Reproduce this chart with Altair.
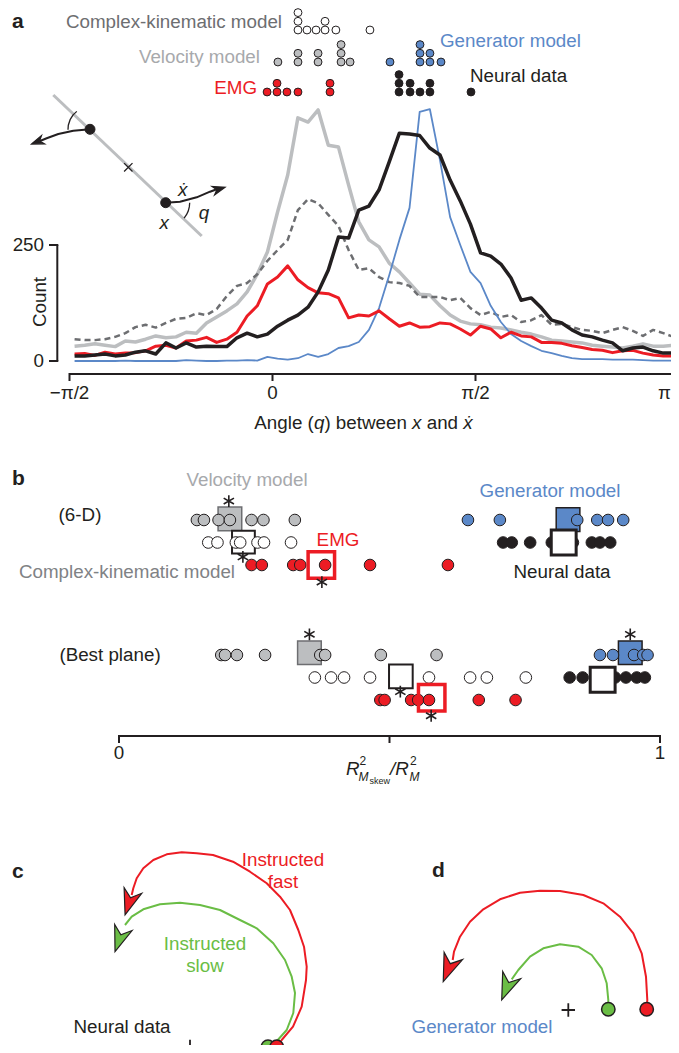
import altair as alt
import pandas as pd

FONT = "Liberation Sans"
FS = 18.8
RED = "#ec1c24"; BLUE = "#5b88c8"; GREEN = "#6abd45"; BLACK = "#231f20"
LGRAY = "#bcbec0"; DGRAY = "#6d6e71"; VEL_TXT = "#a7a9ac"; CK_TXT = "#808285"

# ---------------- panel a : histograms of angle q (degrees) ----------------
BIN_DEG = [-87.75 + 4.5 * k for k in range(60)]
NEURAL = [11, 11, 13, 15, 11, 13, 19, 22, 15, 39, 28, 39, 30, 32, 31, 31, 50, 60, 52, 58,
          75, 88, 99, 116, 149, 196, 267, 265, 325, 334, 369, 429, 491, 489, 486, 459, 444, 390, 345, 295,
          233, 226, 209, 179, 131, 136, 114, 88, 82, 67, 56, 52, 45, 39, 22, 28, 30, 22, 17, 17]
VELOCITY = [32, 34, 37, 34, 31, 43, 41, 47, 54, 50, 52, 62, 60, 82, 95, 108, 123, 149, 187, 235,
            321, 401, 524, 515, 541, 465, 461, 379, 300, 261, 246, 211, 192, 168, 144, 142, 119, 99, 86, 80,
            78, 73, 71, 67, 62, 58, 52, 45, 43, 41, 39, 34, 32, 30, 28, 32, 37, 32, 32, 34]
COMPLEX = [47, 45, 45, 47, 52, 60, 73, 78, 72, 82, 91, 93, 103, 99, 112, 140, 162, 168, 187, 216,
           239, 261, 325, 349, 340, 315, 291, 239, 196, 200, 181, 170, 168, 162, 138, 138, 138, 131, 136, 114,
           99, 106, 95, 99, 84, 88, 99, 78, 80, 73, 67, 65, 60, 67, 73, 65, 54, 67, 60, 52]
EMG = [15, 16, 12, 19, 15, 17, 18, 22, 32, 34, 28, 43, 45, 51, 40, 47, 62, 97, 119, 166,
       181, 205, 175, 158, 147, 145, 136, 93, 99, 97, 108, 91, 75, 82, 73, 74, 82, 80, 69, 56,
       75, 69, 50, 62, 54, 52, 40, 40, 38, 33, 29, 25, 23, 18, 22, 23, 17, 13, 11, 11]
GENERATOR = [0, 0, 0, 0, 0, 1, 0, 0, 0, 0, 0, 2, 1, 0, 0, 1, 1, 2, 1, 9,
             5, 3, 6, 15, 9, 15, 28, 32, 41, 67, 114, 185, 261, 330, 537, 543, 433, 310, 250, 192,
             168, 119, 84, 58, 43, 32, 22, 17, 11, 6, 4, 4, 4, 3, 3, 3, 2, 1, 1, 1]
A_TICKS = [-90, 0, 90, 180]
A_TICK_LABELS = ["\u2212\u03c0/2", "0", "\u03c0/2", "\u03c0"]
COUNT_TICKS = [0, 250]

# dot rows above the histograms: angle (deg) and stacking level
DOT_CK_ANG = [11.3, 11.3, 11.3, 15.3, 19.3, 23.3, 23.3, 28.1, 43.2]
DOT_CK_LVL = [0, 1, 2, 0, 0, 0, 1, 0, 0]
DOT_VEL_ANG = [2.4, 11.3, 11.3, 20.2, 20.2, 30.4, 30.4, 30.4, 34.4]
DOT_VEL_LVL = [0, 0, 1, 0, 1, 0, 1, 2, 0]
DOT_EMG_ANG = [-2.4, 2.0, 2.0, 6.4, 11.3, 25.5, 25.5]
DOT_EMG_LVL = [0, 0, 1, 0, 0, 0, 1]
DOT_GEN_ANG = [52.1, 65.4, 65.4, 65.4, 69.8, 69.8, 74.7]
DOT_GEN_LVL = [0, 0, 1, 2, 0, 1, 0]
DOT_NEU_ANG = [56.1, 56.1, 56.1, 61.0, 61.0, 65.4, 69.8, 69.8, 88.0]
DOT_NEU_LVL = [0, 1, 2, 0, 1, 0, 0, 1, 0]

# schematic (units relative to the pivot)
SCH_ROD_X = [-7.5, 7.34]; SCH_ROD_Y = [7.23, -6.87]
SCH_MASS_X = [-3.83, 3.74]; SCH_MASS_Y = [3.8, -3.54]
SCH_L_X = [-3.83, -5.5, -7.0, -8.16, -8.83]; SCH_L_Y = [3.8, 3.66, 3.33, 2.9, 2.63]
SCH_R_X = [3.74, 5.17, 6.84, 8.17, 8.77]; SCH_R_Y = [-3.54, -3.44, -3.0, -2.44, -2.22]
SCH_ARCL_X = [-5.15, -5.52, -5.82, -6.0, -6.03]; SCH_ARCL_Y = [5.59, 5.24, 4.76, 4.21, 3.75]
SCH_ARCR_X = [6.14, 6.1, 6.0, 5.82, 5.58]; SCH_ARCR_Y = [-3.54, -3.96, -4.36, -4.74, -5.08]
SCH_HEAD_X = [-9.1, 9.09]; SCH_HEAD_Y = [2.54, -2.17]; SCH_HEAD_ANG = [249.2, 73.7]

# ---------------- panel b : R2 ratios ----------------
B6_VEL = [0.144, 0.157, 0.184, 0.205, 0.245, 0.267, 0.325]
B6_CK = [0.165, 0.182, 0.216, 0.224, 0.256, 0.268, 0.318]
B6_EMG = [0.245, 0.264, 0.322, 0.335, 0.381, 0.464, 0.608]
B6_GEN = [0.645, 0.704, 0.847, 0.884, 0.904, 0.932]
B6_NEU = [0.710, 0.726, 0.760, 0.800, 0.839, 0.874, 0.889, 0.908]
BB_VEL = [0.189, 0.196, 0.218, 0.270, 0.372, 0.381, 0.484, 0.587]
BB_CK = [0.362, 0.392, 0.416, 0.464, 0.573, 0.649, 0.680, 0.752]
BB_EMG = [0.483, 0.491, 0.540, 0.553, 0.573, 0.665, 0.733]
BB_GEN = [0.889, 0.913, 0.952, 0.969, 0.977]
BB_NEU = [0.833, 0.857, 0.900, 0.917, 0.937, 0.957, 0.972]
# rows: 0-2 (6-D) velocity / complex / EMG, 6-8 best plane
MEAN_VAL = {"vel6": (0.205, -0.05), "ck6": (0.230, 0.98), "emg6": (0.374, 2.0), "gen6": (0.830, -0.02),
            "neu6": (0.822, 1.0), "velb": (0.352, 5.9), "ckb": (0.521, 6.95), "emgb": (0.578, 7.9),
            "genb": (0.945, 5.9), "neub": (0.894, 7.1)}
STAR_X = [0.203, 0.229, 0.375, 0.352, 0.945, 0.520, 0.577]
STAR_ROW = [-0.84, 1.64, 2.76, 5.08, 5.08, 7.63, 8.70]
B_TICKS = [0, 0.5, 1]

# ---------------- panels c, d : trajectories (units around the '+') ----------------
C_FAST_X = [8.7, 9.17, 10.3, 11.17, 11.6, 11.67, 11.4, 10.83, 10.0, 9.0, 7.67, 6.0, 4.3, 2.3, 0.67,
            -0.83, -2.33, -3.67, -4.67, -5.33, -5.67, -5.83]
C_FAST_Y = [0.07, 0.67, 2.0, 4.0, 6.67, 8.0, 10.0, 11.67, 13.67, 15.0, 16.34, 17.5, 18.5, 19.17, 19.34,
            19.44, 19.24, 18.67, 17.84, 16.84, 15.84, 15.17]
C_SLOW_X = [8.6, 9.67, 10.33, 10.5, 10.17, 9.5, 8.33, 6.67, 5.0, 3.0, 1.0, -1.0, -3.0, -4.67, -5.83, -6.5]
C_SLOW_Y = [0.47, 1.67, 3.37, 5.37, 7.0, 8.67, 10.34, 11.84, 12.67, 13.67, 14.17, 14.4, 14.24, 13.74, 13.0, 12.17]
C_HEAD = {"fast": (-6.1, 14.4, 197.8), "slow": (-7.08, 10.71, 199.1)}
C_START_X = [7.8, 8.67]
D_FAST_X = [7.84, 7.9, 7.77, 7.34, 6.5, 5.17, 3.5, 1.5, -0.83, -2.83, -4.83, -6.83, -8.5, -9.83, -10.83, -11.43, -11.56]
D_FAST_Y = [0.07, 1.0, 3.33, 5.67, 7.67, 9.33, 10.67, 11.5, 11.9, 11.93, 11.73, 11.07, 10.07, 8.83, 7.33, 5.83, 5.0]
D_SLOW_X = [4.0, 4.0, 3.84, 3.34, 2.34, 1.0, -0.83, -2.5, -3.83, -5.0, -5.66]
D_SLOW_Y = [0.07, 1.0, 2.67, 4.17, 5.5, 6.33, 6.57, 6.17, 5.33, 4.0, 3.07]
D_HEAD = {"fast": (-12.0, 4.12, 201.5), "slow": (-6.16, 2.25, 201.8)}
D_START_X = [4.0, 7.84]

# =====================================================================
ARROW = "M0,-1L0.72,1L0,0.4L-0.72,1Z"
STAR = "M0,-1L0,1M-0.87,-0.5L0.87,0.5M-0.87,0.5L0.87,-0.5"
PLUS = "M-1,0L1,0M0,-1L0,1"
TIMES = "M-1,-1L1,1M-1,1L1,-1"


def S(dom, rng):
    return alt.Scale(domain=dom, range=rng, zero=False, nice=False)


PX = S([0, 663], [0, 663]); PY = S([0, 1037], [0, 1037])
AX = S([-90, 180], [61.5, 670.5]); AY = S([0, 250], [353, 237])
SX = S([-10, 10], [20.3, 220.3]); SY = S([-10, 10], [259.3, 59.3])
BX = S([0, 1], [111, 652]); BY = S([0, 8], [512, 692])
CX = S([-20, 20], [-18, 382]); CY = S([-10, 30], [1138.7, 738.7])
DX = S([-20, 20], [360.3, 760.3]); DY = S([-10, 30], [1102, 702])


def XY(xf, xs, yf, ys):
    return dict(x=alt.X(xf, scale=xs, axis=None), y=alt.Y(yf, scale=ys, axis=None))


L = []


def T(text, x, y, size=FS, color=BLACK, align="center", weight="normal", style="normal", angle=0,
      baseline="middle"):
    df = pd.DataFrame({"x": [x - 8], "y": [y - 8], "t": [text]})
    kw = dict(font=FONT, fontSize=size, color=color, align=align, baseline=baseline,
              fontWeight=weight, fontStyle=style)
    if angle:
        kw["angle"] = angle
    L.append(alt.Chart(df).mark_text(**kw).encode(**XY("x:Q", PX, "y:Q", PY), text="t:N"))


def line(xs, ys, xsc, ysc, color, width, dash=None):
    df = pd.DataFrame({"x": xs, "y": ys, "i": list(range(len(xs)))})
    kw = dict(color=color, strokeWidth=width, strokeJoin="round")
    if dash:
        kw["strokeDash"] = dash
    L.append(alt.Chart(df).mark_line(**kw).encode(**XY("x:Q", xsc, "y:Q", ysc), order="i:Q"))


def dots(xs, ys, xsc, ysc, fill, size, shape="circle", stroke=BLACK, sw=1.0, filled=True):
    df = pd.DataFrame({"x": xs, "y": ys})
    kw = dict(shape=shape, size=size, opacity=1, stroke=stroke, strokeWidth=sw, filled=filled)
    if filled:
        kw["fill"] = fill
    L.append(alt.Chart(df).mark_point(**kw).encode(**XY("x:Q", xsc, "y:Q", ysc)))


def heads(xs, ys, angs, xsc, ysc, fill, size):
    df = pd.DataFrame({"x": xs, "y": ys, "a": angs})
    L.append(alt.Chart(df).mark_point(shape=ARROW, filled=True, fill=fill, stroke=BLACK, strokeWidth=1.2,
                                      opacity=1, size=size)
             .encode(**XY("x:Q", xsc, "y:Q", ysc), angle=alt.Angle("a:Q", scale=None)))


# ---------------- panel a axes ----------------
df = pd.DataFrame({"x0": [A_TICKS[0]], "x1": [A_TICKS[-1]], "y": [374 - 8]})
L.append(alt.Chart(df).mark_rule(color=BLACK, strokeWidth=2)
         .encode(x=alt.X("x0:Q", scale=AX, axis=None), x2="x1:Q", y=alt.Y("y:Q", scale=PY, axis=None)))
df = pd.DataFrame({"x": A_TICKS, "y0": [373 - 8] * 4, "y1": [381 - 8] * 4})
L.append(alt.Chart(df).mark_rule(color=BLACK, strokeWidth=2)
         .encode(x=alt.X("x:Q", scale=AX, axis=None), y=alt.Y("y0:Q", scale=PY, axis=None), y2="y1:Q"))
df = pd.DataFrame({"x": A_TICKS[:3], "t": A_TICK_LABELS[:3], "yl": [393 - 8] * 3})
L.append(alt.Chart(df).mark_text(font=FONT, fontSize=FS, color=BLACK, baseline="middle")
         .encode(**XY("x:Q", AX, "yl:Q", PY), text="t:N"))
# last tick label sits at the very right edge of the page
T(A_TICK_LABELS[3], 671, 393, align="right")
df = pd.DataFrame({"x": [57.3 - 8], "y0": [COUNT_TICKS[0]], "y1": [COUNT_TICKS[1]]})
L.append(alt.Chart(df).mark_rule(color=BLACK, strokeWidth=2)
         .encode(x=alt.X("x:Q", scale=PX, axis=None), y=alt.Y("y0:Q", scale=AY, axis=None), y2="y1:Q"))
df = pd.DataFrame({"x0": [49 - 8] * 2, "x1": [58.3 - 8] * 2, "y": COUNT_TICKS, "t": ["0", "250"],
                   "xl": [44 - 8] * 2})
L.append(alt.Chart(df).mark_rule(color=BLACK, strokeWidth=2)
         .encode(x=alt.X("x0:Q", scale=PX, axis=None), x2="x1:Q", y=alt.Y("y:Q", scale=AY, axis=None)))
L.append(alt.Chart(df).mark_text(font=FONT, fontSize=FS, color=BLACK, align="right", baseline="middle")
         .encode(**XY("xl:Q", PX, "y:Q", AY), text="t:N"))
T("Count", 40, 302, angle=270)
# axis title
T("Angle (", 254.3, 423, align="left")
T("q", 313.9, 423, align="left", style="italic")
T(") between", 324.4, 423, align="left")
T("x", 412.1, 423, align="left", style="italic")
T("and", 426.7, 423, align="left")
T("\u1e8b", 463.3, 423, align="left", style="italic")

# ---------------- panel a histograms ----------------
line(BIN_DEG, VELOCITY, AX, AY, LGRAY, 3.5)
line(BIN_DEG, COMPLEX, AX, AY, DGRAY, 2.5, [6, 4])
line(BIN_DEG, GENERATOR, AX, AY, BLUE, 1.8)
line(BIN_DEG, EMG, AX, AY, RED, 3)
line(BIN_DEG, NEURAL, AX, AY, BLACK, 3.5)

# dot rows
for ang, lvl, base, fill in [(DOT_CK_ANG, DOT_CK_LVL, 30, "white"), (DOT_VEL_ANG, DOT_VEL_LVL, 62, LGRAY),
                             (DOT_GEN_ANG, DOT_GEN_LVL, 62, BLUE), (DOT_NEU_ANG, DOT_NEU_LVL, 92, BLACK),
                             (DOT_EMG_ANG, DOT_EMG_LVL, 92, RED)]:
    dots(ang, lvl, AX, S([0, 1], [base - 8, base - 8 - 8.7]), fill, 62)
T("Complex-kinematic model", 282, 22, color=DGRAY, align="right")
T("Velocity model", 260, 57, color=VEL_TXT, align="right")
T("EMG", 257, 88, color=RED, align="right")
T("Generator model", 440, 41, color=BLUE, align="left")
T("Neural data", 470, 76, color=BLACK, align="left")
T("a", 12, 22, size=21, weight="bold", align="left")

# schematic
line(SCH_ROD_X, SCH_ROD_Y, SX, SY, LGRAY, 3)
line(SCH_L_X, SCH_L_Y, SX, SY, BLACK, 2)
line(SCH_R_X, SCH_R_Y, SX, SY, BLACK, 2)
line(SCH_ARCL_X, SCH_ARCL_Y, SX, SY, BLACK, 1.3)
line(SCH_ARCR_X, SCH_ARCR_Y, SX, SY, BLACK, 1.3)
heads(SCH_HEAD_X, SCH_HEAD_Y, SCH_HEAD_ANG, SX, SY, BLACK, 150)
dots(SCH_MASS_X, SCH_MASS_Y, SX, SY, BLACK, 100)
dots([0], [0], SX, SY, None, 70, shape=TIMES, sw=1.3, filled=False)
T("\u1e8b", 182.7, 190, style="italic")
T("q", 204, 213, style="italic")
T("x", 164.3, 223, style="italic")

# ---------------- panel b ----------------
df = pd.DataFrame({"x0": [B_TICKS[0]], "x1": [B_TICKS[-1]], "y": [736 - 8]})
L.append(alt.Chart(df).mark_rule(color=BLACK, strokeWidth=2)
         .encode(x=alt.X("x0:Q", scale=BX, axis=None), x2="x1:Q", y=alt.Y("y:Q", scale=PY, axis=None)))
df = pd.DataFrame({"x": B_TICKS, "y0": [735 - 8] * 3, "y1": [743 - 8] * 3})
L.append(alt.Chart(df).mark_rule(color=BLACK, strokeWidth=2)
         .encode(x=alt.X("x:Q", scale=BX, axis=None), y=alt.Y("y0:Q", scale=PY, axis=None), y2="y1:Q"))
df = pd.DataFrame({"x": [0, 1], "y": [753 - 8] * 2, "t": ["0", "1"]})
L.append(alt.Chart(df).mark_text(font=FONT, fontSize=FS, color=BLACK, baseline="middle")
         .encode(**XY("x:Q", BX, "y:Q", PY), text="t:N"))

BS = 135
MS = 560


def square(key, fill, stroke, sw, size=MS, filled=True):
    v, r = MEAN_VAL[key]
    dots([v], [r], BX, BY, fill, size, shape="square", stroke=stroke, sw=sw, filled=filled)


square("vel6", LGRAY, DGRAY, 1.5)
square("velb", LGRAY, DGRAY, 1.5)
square("gen6", BLUE, BLACK, 1.5)
square("genb", BLUE, BLACK, 1.5)
square("ck6", "white", BLACK, 2, 520)
square("ckb", "white", BLACK, 2, 560)
dots(B6_VEL, [0] * len(B6_VEL), BX, BY, LGRAY, BS)
dots(BB_VEL, [6] * len(BB_VEL), BX, BY, LGRAY, BS)
dots(B6_CK, [1] * len(B6_CK), BX, BY, "white", BS)
dots(BB_CK, [7] * len(BB_CK), BX, BY, "white", BS)
dots(B6_EMG, [2] * len(B6_EMG), BX, BY, RED, BS)
dots(BB_EMG, [8] * len(BB_EMG), BX, BY, RED, BS)
dots(B6_GEN, [0] * len(B6_GEN), BX, BY, BLUE, BS)
dots(BB_GEN, [6] * len(BB_GEN), BX, BY, BLUE, BS)
dots(B6_NEU, [1] * len(B6_NEU), BX, BY, BLACK, BS)
dots(BB_NEU, [7] * len(BB_NEU), BX, BY, BLACK, BS)
square("neu6", "white", BLACK, 3, 620)
square("neub", "white", BLACK, 3, 620)
square("emg6", None, RED, 3.5, 700, filled=False)
square("emgb", None, RED, 3.5, 700, filled=False)
dots(STAR_X, STAR_ROW, BX, BY, None, 140, shape=STAR, sw=1.6, filled=False)

T("b", 12, 479, size=21, weight="bold", align="left")
T("(6-D)", 80, 515)
T("(Best plane)", 110, 655)
T("Velocity model", 247, 480, color=VEL_TXT)
T("Complex-kinematic model", 127, 572, color=CK_TXT)
T("EMG", 338, 540, color=RED)
T("Generator model", 550, 491, color=BLUE)
T("Neural data", 562, 572, color=BLACK)
# x label R^2_{M_skew} / R^2_M
T("R", 346, 775, align="left", style="italic", baseline="alphabetic")
T("2", 359.5, 765, size=12, align="left", baseline="alphabetic")
T("M", 358.5, 781, size=12, align="left", style="italic", baseline="alphabetic")
T("skew", 369.5, 784, size=9, align="left", baseline="alphabetic")
T("/R", 390, 775, align="left", style="italic", baseline="alphabetic")
T("2", 410, 765, size=12, align="left", baseline="alphabetic")
T("M", 409.5, 781, size=12, align="left", style="italic", baseline="alphabetic")

# ---------------- panel c ----------------
line(C_FAST_X, C_FAST_Y, CX, CY, RED, 2)
line(C_SLOW_X, C_SLOW_Y, CX, CY, GREEN, 2)
heads([C_HEAD["fast"][0]], [C_HEAD["fast"][1]], [C_HEAD["fast"][2]], CX, CY, RED, 660)
heads([C_HEAD["slow"][0]], [C_HEAD["slow"][1]], [C_HEAD["slow"][2]], CX, CY, GREEN, 650)
dots([C_START_X[0]], [0], CX, CY, GREEN, 180, sw=1.5)
dots([C_START_X[1]], [0], CX, CY, RED, 180, sw=1.5)
dots([0], [0], CX, CY, None, 190, shape=PLUS, sw=1.8, filled=False)
T("c", 12, 872, size=21, weight="bold", align="left")
T("Instructed", 283, 860, color=RED)
T("fast", 283, 882, color=RED)
T("Instructed", 205, 944, color=GREEN)
T("slow", 205, 966, color=GREEN)
T("Neural data", 122, 1027)

# ---------------- panel d ----------------
line(D_FAST_X, D_FAST_Y, DX, DY, RED, 2)
line(D_SLOW_X, D_SLOW_Y, DX, DY, GREEN, 2)
heads([D_HEAD["fast"][0]], [D_HEAD["fast"][1]], [D_HEAD["fast"][2]], DX, DY, RED, 760)
heads([D_HEAD["slow"][0]], [D_HEAD["slow"][1]], [D_HEAD["slow"][2]], DX, DY, GREEN, 720)
dots([D_START_X[0]], [0.07], DX, DY, GREEN, 180, sw=1.5)
dots([D_START_X[1]], [0.07], DX, DY, RED, 180, sw=1.5)
dots([0], [0], DX, DY, None, 180, shape=PLUS, sw=1.8, filled=False)
T("d", 432, 871, size=21, weight="bold", align="left")
T("Generator model", 482, 1027, color=BLUE)

chart = (alt.layer(*L)
         .resolve_scale(x="independent", y="independent")
         .properties(width=663, height=1037, autosize="none", padding=0)
         .configure_view(stroke=None))
chart.save("out.html", embed_options={"renderer": "svg", "actions": False})
